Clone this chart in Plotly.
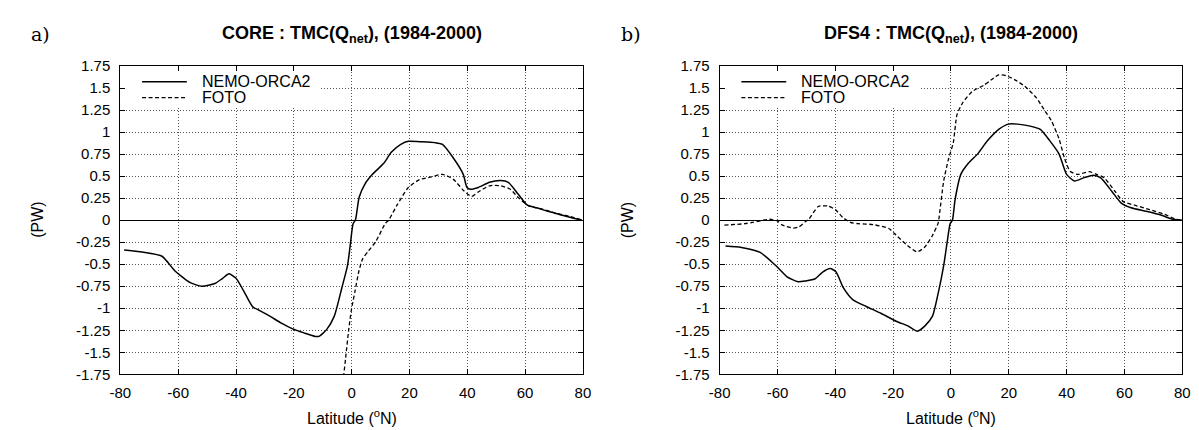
import plotly.graph_objects as go

# ---- data: CORE panel (a) ----
core_nemo_lat = [-78.7, -71.5, -65.6, -61, -55.8, -51.8, -47.3, -44.6, -42.4, -40, -37.4, -34.2, -32.2,
                 -28.3, -24.3, -20.4, -16.5, -12.6, -11.3, -8.6, -6, -3.4, -1.4, -0.4, 0.5, 1.3, 2.6,
                 4.6, 7.2, 11.1, 13.7, 17, 19.6, 23.5, 28.8, 31.4, 35.3, 38.6, 39.9, 41.2, 43.8, 47.7,
                 51.6, 54.2, 57.5, 60.8, 64, 67.9, 71.9, 75.8, 79.7]
core_nemo_val = [-0.34, -0.367, -0.41, -0.58, -0.71, -0.75, -0.72, -0.66, -0.61, -0.66, -0.80, -0.985, -1.02,
                 -1.09, -1.17, -1.235, -1.28, -1.32, -1.32, -1.24, -1.09, -0.77, -0.51, -0.26, -0.04, 0.0, 0.26,
                 0.41, 0.52, 0.645, 0.77, 0.86, 0.895, 0.89, 0.88, 0.86, 0.70, 0.52, 0.37, 0.35, 0.37, 0.43,
                 0.45, 0.43, 0.30, 0.17, 0.14, 0.10, 0.065, 0.03, 0.0]

core_foto_lat = [-3.4, -2.7, -2.1, -1, -0.1, 1.2, 2.5, 3.8, 5.8, 8.4, 11.6, 12.8, 15.7, 19.6, 23.5, 27.5,
                 31.4, 35.3, 38.6, 41.5, 43.8, 47.7, 51.6, 54.9, 57.5, 61.4, 65.4, 70.6, 75.8, 79.7]
core_foto_val = [-2.0, -1.75, -1.57, -1.24, -1.02, -0.80, -0.58, -0.44, -0.35, -0.24, -0.04, 0.0, 0.17, 0.37,
                 0.46, 0.49, 0.52, 0.46, 0.34, 0.27, 0.32, 0.39, 0.39, 0.35, 0.26, 0.16, 0.13, 0.08, 0.04, 0.0]

# ---- data: DFS4 panel (b) ----
dfs_nemo_lat = [-78, -72.5, -66, -60.8, -56.8, -52.9, -50.3, -47, -44.4, -41.8, -39.8, -37.2, -33.9, -29.3,
                -24.1, -18.8, -14.9, -11.6, -9, -6.4, -4.5, -2.5, -1.2, -0.3, 0.5, 1.4, 3.4, 6, 9.3, 12.6,
                16.5, 19.8, 23, 27, 30.9, 34.2, 37.4, 40, 42.7, 45.9, 49.2, 51.8, 55.8, 59, 62.3, 67.5,
                72.8, 76.7, 80]
dfs_nemo_val = [-0.294, -0.31, -0.366, -0.51, -0.64, -0.70, -0.69, -0.665, -0.59, -0.55, -0.585, -0.77, -0.905,
                -0.98, -1.06, -1.15, -1.20, -1.26, -1.20, -1.09, -0.84, -0.51, -0.22, -0.04, 0.0, 0.23, 0.52,
                0.645, 0.755, 0.90, 1.03, 1.09, 1.09, 1.07, 1.03, 0.90, 0.75, 0.52, 0.445, 0.48, 0.51, 0.48,
                0.32, 0.19, 0.14, 0.10, 0.055, 0.01, 0.0]

dfs_foto_lat = [-78.4, -71.3, -68.6, -62.7, -60, -58.3, -54.5, -52.5, -50.5, -49.2, -45.9, -42.6, -40, -37.4,
                -34.8, -32.2, -27, -21.5, -19, -15, -11.8, -9.2, -6.5, -4.5, -4.2, -2.5, -0.8, 0.8, 2.1, 4,
                7.3, 11.3, 13.8, 16.5, 19, 22.3, 25.5, 29.5, 32.1, 34.7, 37.4, 39.3, 41.2, 43.8, 47.8, 50.4,
                53, 56.9, 59.6, 63.5, 68.7, 73.9, 77.9, 80]
dfs_foto_val = [-0.057, -0.04, -0.025, 0.01, -0.01, -0.057, -0.09, -0.075, -0.02, 0.01, 0.155, 0.16, 0.12, 0.03,
                -0.025, -0.04, -0.05, -0.095, -0.17, -0.29, -0.36, -0.31, -0.18, -0.04, 0.01, 0.45, 0.70, 0.88,
                1.2, 1.33, 1.46, 1.53, 1.59, 1.65, 1.64, 1.59, 1.52, 1.39, 1.26, 1.13, 0.92, 0.70, 0.555, 0.52,
                0.55, 0.52, 0.48, 0.32, 0.21, 0.17, 0.12, 0.065, 0.01, 0.0]

series_names = ["NEMO-ORCA2", "FOTO"]
titles = ["CORE : TMC(Q<sub>net</sub>), (1984-2000)", "DFS4 : TMC(Q<sub>net</sub>), (1984-2000)"]
panel_tags = ["a)", "b)"]
x_ticks = [-80, -60, -40, -20, 0, 20, 40, 60, 80]
x_ticktext = ["-80", "-60", "-40", "-20", "0", "20", "40", "60", "80"]
y_ticks = [-1.75, -1.5, -1.25, -1, -0.75, -0.5, -0.25, 0, 0.25, 0.5, 0.75, 1, 1.25, 1.5, 1.75]
y_ticktext = ["-1.75", "-1.5", "-1.25", "-1", "-0.75", "-0.5", "-0.25", "0",
              "0.25", "0.5", "0.75", "1", "1.25", "1.5", "1.75"]
x_title = "Latitude (<sup>o</sup>N)"
y_title = "(PW)"

W, H = 1199, 430
FONT = "Liberation Sans, Arial, sans-serif"
SERIF = "DejaVu Serif, Liberation Serif, serif"

fig = go.Figure()

panels = [
    (core_nemo_lat, core_nemo_val, core_foto_lat, core_foto_val),
    (dfs_nemo_lat, dfs_nemo_val, dfs_foto_lat, dfs_foto_val),
]
frame_left = [103, 712]
frame_w = 470
frame_top, frame_bot = 51, 372

solid_style = dict(color="black", width=1.5)
dash_style = dict(color="black", width=1.3, dash="4px,2.5px")

for i, (nl, nv, fl, fv) in enumerate(panels):
    xa = "x" if i == 0 else "x2"
    ya = "y" if i == 0 else "y2"
    fig.add_trace(go.Scatter(x=nl, y=nv, mode="lines", name=series_names[0], xaxis=xa, yaxis=ya,
                             showlegend=False, line=dict(shape="spline", smoothing=0.6, **solid_style)))
    fig.add_trace(go.Scatter(x=fl, y=fv, mode="lines", name=series_names[1], xaxis=xa, yaxis=ya,
                             showlegend=False, line=dict(shape="spline", smoothing=0.6, **dash_style)))

axis_common = dict(showline=True, linecolor="black", linewidth=1.2, mirror="ticks", ticks="inside",
                   ticklen=5, tickcolor="black", showgrid=True, gridcolor="#555", griddash="1px,2px",
                   gridwidth=1, tickfont=dict(family=FONT, size=15, color="black"))

layout = dict(width=W, height=H, margin=dict(l=0, r=0, t=0, b=0), plot_bgcolor="white",
              paper_bgcolor="white", font=dict(family=FONT, color="black"), showlegend=False)

annotations = []
shapes = []
for i in range(2):
    x0 = frame_left[i] / W
    x1 = (frame_left[i] + frame_w) / W
    xkey = "xaxis" if i == 0 else "xaxis2"
    ykey = "yaxis" if i == 0 else "yaxis2"
    xr = "x" if i == 0 else "x2"
    yr = "y" if i == 0 else "y2"
    layout[xkey] = dict(domain=[x0, x1], range=[-80, 80], tickvals=x_ticks, ticktext=x_ticktext,
                        zeroline=False, anchor=yr, ticklabelstandoff=5, **axis_common)
    layout[ykey] = dict(domain=[1 - frame_bot / H, 1 - frame_top / H], range=[-1.75, 1.75],
                        tickvals=y_ticks, ticktext=y_ticktext, zeroline=True, zerolinecolor="black",
                        zerolinewidth=1.2, anchor=xr, ticklabelstandoff=6, **axis_common)
    cx = (frame_left[i] + frame_w / 2) / W
    # title
    annotations.append(dict(text="<b>" + titles[i] + "</b>", x=cx, y=1 - 18 / H, xref="paper", yref="paper",
                            showarrow=False, font=dict(family=FONT, size=18, color="black"),
                            xanchor="center", yanchor="middle"))
    # panel tag
    annotations.append(dict(text=panel_tags[i], x=(10 + 600 * i) / W, y=1 - 18 / H, xref="paper", yref="paper",
                            showarrow=False, font=dict(family=SERIF, size=19, color="black"),
                            xanchor="left", yanchor="middle"))
    # axis titles
    annotations.append(dict(text=x_title, x=cx, y=1 - 416 / H, xref="paper", yref="paper",
                            showarrow=False, font=dict(family=FONT, size=16, color="black"),
                            xanchor="center", yanchor="middle"))
    annotations.append(dict(text=y_title, x=(18 + 600 * i) / W, y=1 - (frame_top + frame_bot) / 2 / H,
                            xref="paper", yref="paper", textangle=-90, showarrow=False,
                            font=dict(family=FONT, size=16, color="black"),
                            xanchor="center", yanchor="middle"))
    # legend (key box)
    shapes.append(dict(type="rect", xref=xr, yref=yr, x0=-79.3, x1=-11, y0=1.29, y1=1.74,
                       fillcolor="white", line=dict(width=0), layer="between"))
    for k, (nm, st, yy) in enumerate(zip(series_names, [solid_style, dash_style], [1.57, 1.39])):
        shapes.append(dict(type="line", xref=xr, yref=yr, x0=-72.5, x1=-57, y0=yy, y1=yy,
                           line=st, layer="above"))
        annotations.append(dict(text=nm, x=-52.5, y=yy, xref=xr, yref=yr, showarrow=False,
                                font=dict(family=FONT, size=16, color="black"),
                                xanchor="left", yanchor="middle"))

layout["annotations"] = annotations
layout["shapes"] = shapes
fig.update_layout(**layout)

fig.write_html("out.html")
